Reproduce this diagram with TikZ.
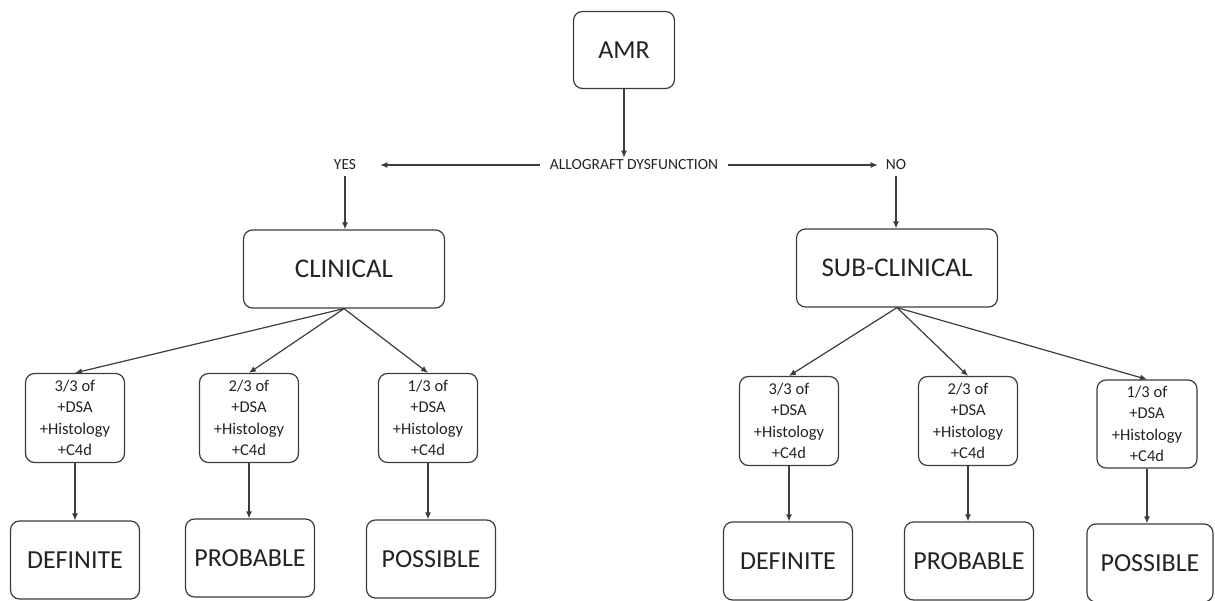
\documentclass[tikz,border=0pt]{standalone}
\usepackage{fontspec}
\setmainfont{Carlito}
\usetikzlibrary{arrows.meta,positioning}
\definecolor{amrLine}{RGB}{60, 60, 60}
\definecolor{amrText}{RGB}{35, 35, 35}

\begin{document}
\begin{tikzpicture}[
  x=1pt, y=-1pt,
  box/.style={
    draw=amrLine,
    line width=1.2pt,
    rounded corners=9pt,
    inner sep=0pt,
    align=center,
    text=amrText
  },
  headbox/.style={box, minimum width=201pt, minimum height=78pt, font=\fontsize{27}{30}\selectfont},
  critbox/.style={box, minimum width=99pt, minimum height=89pt, font=\fontsize{16.5}{21.5}\selectfont},
  endbox/.style={box, minimum width=129pt, minimum height=78pt, font=\fontsize{26}{30}\selectfont},
  word/.style={inner sep=2pt, text=amrText, font=\fontsize{15.5}{18}\selectfont},
  arrow/.style={-{Latex[length=7pt,width=6pt]}, line width=1.2pt, amrLine}
]
  \useasboundingbox (0,0) rectangle (1215,601);

  % top
  \node[box, minimum width=101pt, minimum height=77pt, font=\fontsize{26}{30}\selectfont] (amr) at (624,50) {AMR};
  \node[word] (dysf) at (634,165) {ALLOGRAFT DYSFUNCTION};
  \node[word] (yes) at (345,165) {YES};
  \node[word] (no) at (896,165) {NO};
  \node[headbox] (clin) at (344,269) {CLINICAL};
  \node[headbox] (subclin) at (897,268) {SUB-CLINICAL};

  % clinical branch
  \node[critbox] (lA) at (75,418) {3/3 of\\+DSA\\+Histology\\+C4d};
  \node[critbox] (lB) at (249,418) {2/3 of\\+DSA\\+Histology\\+C4d};
  \node[critbox] (lC) at (428,418) {1/3 of\\+DSA\\+Histology\\+C4d};
  \node[endbox] (ldef) at (75,560) {DEFINITE};
  \node[endbox] (lprob) at (250,558) {PROBABLE};
  \node[endbox] (lposs) at (431,559) {POSSIBLE};

  % sub-clinical branch
  \node[critbox] (rA) at (789,421) {3/3 of\\+DSA\\+Histology\\+C4d};
  \node[critbox] (rB) at (968,421) {2/3 of\\+DSA\\+Histology\\+C4d};
  \node[critbox, minimum width=100pt, minimum height=88pt] (rC) at (1147,424) {1/3 of\\+DSA\\+Histology\\+C4d};
  \node[endbox] (rdef) at (788,561) {DEFINITE};
  \node[endbox] (rprob) at (969,561) {PROBABLE};
  \node[endbox, minimum width=126pt] (rposs) at (1150,563) {POSSIBLE};

  \draw[arrow] (amr.south) -- (amr.south |- dysf.north);
  \draw[arrow, shorten <=8pt, shorten >=22pt] (dysf.west) -- (yes.east);
  \draw[arrow, shorten <=8pt, shorten >=6pt] (dysf.east) -- (no.west);
  \draw[arrow, shorten <=4pt] (yes.south) -- (clin.north -| yes.south);
  \draw[arrow, shorten <=4pt] (no.south) -- (subclin.north -| no.south);

  \draw[arrow] (clin.south) -- (lA.north);
  \draw[arrow] (clin.south) -- (lB.north);
  \draw[arrow] (clin.south) -- (lC.north);
  \draw[arrow] (subclin.south) -- (rA.north);
  \draw[arrow] (subclin.south) -- (rB.north);
  \draw[arrow] (subclin.south) -- (rC.north);

  \draw[arrow] (lA.south) -- (lA.south |- ldef.north);
  \draw[arrow] (lB.south) -- (lB.south |- lprob.north);
  \draw[arrow] (lC.south) -- (lC.south |- lposs.north);
  \draw[arrow] (rA.south) -- (rA.south |- rdef.north);
  \draw[arrow] (rB.south) -- (rB.south |- rprob.north);
  \draw[arrow] (rC.south) -- (rC.south |- rposs.north);
\end{tikzpicture}
\end{document}
